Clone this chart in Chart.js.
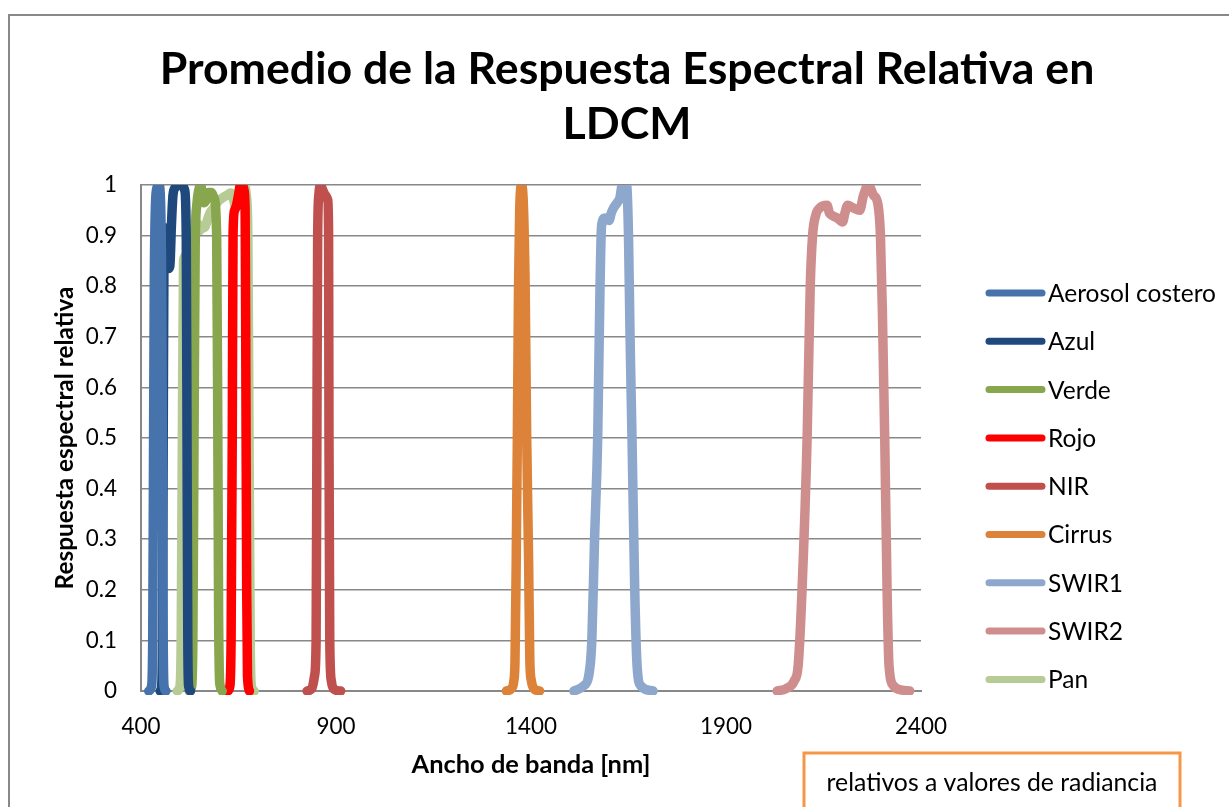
<!DOCTYPE html>
<html><head><meta charset="utf-8">
<script src="https://cdn.jsdelivr.net/npm/chart.js@4.4.1/dist/chart.umd.min.js"></script>
<style>html,body{margin:0;padding:0;background:#fff;overflow:hidden}
#wrap{position:relative;width:1229px;height:807px}canvas{display:block}</style></head>
<body><div id="wrap"><canvas id="c" width="1229" height="807"></canvas></div>
<script>
const titleLines = ['Promedio de la Respuesta Espectral Relativa en', 'LDCM'];
const xAxisTitle = 'Ancho de banda [nm]';
const yAxisTitle = 'Respuesta espectral relativa';
const noteText = 'relativos a valores de radiancia';
const seriesNames = ['Aerosol costero','Azul','Verde','Rojo','NIR','Cirrus','SWIR1','SWIR2','Pan'];
const seriesColors = ['#4773AC','#1F497D','#88A64D','#FF0000','#C0504D','#DC8239','#8EA7CD','#CF8E8E','#B7CC94'];
const xTickValues = [400, 900, 1400, 1900, 2400];
const yTickLabels = ['0','0.1','0.2','0.3','0.4','0.5','0.6','0.7','0.8','0.9','1'];

const aerosolNm  = [420,427,430,432,434,437,441,446,450,453,455,457,459,464];
const aerosolRsr = [0,0.01,0.1,0.45,0.8,0.96,0.995,1.0,0.97,0.8,0.45,0.1,0.01,0];
const azulNm  = [449,453,455,457,459,462,466,470,474,478,482,488,496,505,512,516,518,520,522,527];
const azulRsr = [0,0.01,0.1,0.5,0.88,0.915,0.88,0.835,0.84,0.92,0.98,0.995,1.0,1.0,0.99,0.9,0.5,0.1,0.01,0];
const verdeNm  = [524,530,533,536,539,543,548,553,558,562,567,573,580,587,594,597,599,601,603,608];
const verdeRsr = [0,0.01,0.1,0.5,0.88,0.96,0.99,1.0,0.975,0.965,0.97,0.985,0.985,0.975,0.9,0.5,0.15,0.03,0.01,0];
const rojoNm  = [622,628,631,634,636,640,645,650,655,660,664,667,669,671,673,678];
const rojoRsr = [0,0.01,0.1,0.5,0.9,0.95,0.96,0.98,1.0,1.0,0.99,0.95,0.6,0.2,0.03,0];
const nirNm  = [826,838,845,849,851,853,856,860,866,873,879,881,882,884,888,896,912];
const nirRsr = [0,0.005,0.03,0.1,0.5,0.9,0.98,1.0,0.99,0.98,0.97,0.9,0.5,0.1,0.02,0.003,0];
const cirrusNm  = [1337,1350,1356,1359,1362,1365,1368,1371,1376,1381,1385,1389,1394,1397,1401,1407,1422];
const cirrusRsr = [0,0.005,0.02,0.06,0.25,0.5,0.8,0.95,1.0,0.95,0.8,0.5,0.25,0.06,0.02,0.005,0];
const swir1Nm  = [1510,1535,1548,1556,1563,1571,1577,1581,1590,1600,1606,1612,1621,1628,1634,1645,1650,1654,1659,1666,1672,1682,1713];
const swir1Rsr = [0,0.01,0.03,0.1,0.3,0.5,0.8,0.92,0.935,0.93,0.945,0.955,0.965,0.975,1.0,1.0,0.9,0.7,0.5,0.2,0.05,0.01,0];
const swir2Nm  = [2031,2055,2075,2085,2095,2108,2116,2122,2130,2141,2159,2165,2172,2185,2199,2205,2212,2226,2243,2252,2265,2278,2290,2296,2301,2307,2313,2318,2330,2350,2371];
const swir2Rsr = [0,0.005,0.02,0.05,0.2,0.5,0.8,0.9,0.94,0.955,0.96,0.945,0.94,0.935,0.927,0.945,0.96,0.955,0.95,0.978,1.0,0.98,0.96,0.9,0.75,0.5,0.2,0.05,0.01,0.002,0];
const panNm  = [493,500,503,506,509,514,520,526,531,538,544,550,557,564,570,577,587,597,610,621,630,636,641,646,652,659,665,670,674,677,680,683,690];
const panRsr = [0,0.01,0.1,0.5,0.85,0.86,0.87,0.885,0.9,0.915,0.925,0.91,0.915,0.917,0.93,0.945,0.955,0.967,0.975,0.98,0.984,0.975,0.96,0.957,0.975,0.994,1.0,0.98,0.9,0.5,0.1,0.01,0];

const seriesNm  = [aerosolNm, azulNm, verdeNm, rojoNm, nirNm, cirrusNm, swir1Nm, swir2Nm, panNm];
const seriesRsr = [aerosolRsr, azulRsr, verdeRsr, rojoRsr, nirRsr, cirrusRsr, swir1Rsr, swir2Rsr, panRsr];

const FAMILY = 'Lato, "Open Sans", sans-serif';
const mctx = document.createElement('canvas').getContext('2d');
function fitSize(text, weight, target, base) {
  mctx.font = weight + ' ' + base + 'px ' + FAMILY;
  return base * target / mctx.measureText(text).width;
}
const tickSize = fitSize('2400', 'normal', 52, 24);
const xTitleSize = fitSize(xAxisTitle, 'bold', 239, 20);
const yTitleSize = fitSize(yAxisTitle, 'bold', 303, 20);

const datasets = seriesNames.map((name, i) => ({
  label: name,
  data: seriesNm[i].map((x, j) => ({x: x, y: seriesRsr[i][j]})),
  borderColor: seriesColors[i],
  backgroundColor: seriesColors[i],
  borderWidth: 9.5,
  pointRadius: 0,
  showLine: true,
  fill: false,
  cubicInterpolationMode: 'monotone',
  borderCapStyle: 'round',
  borderJoinStyle: 'round',
  clip: {left: false, right: false, top: 0, bottom: 4}
}));

const decor = {
  id: 'decor',
  beforeDraw(chart) {
    const ctx = chart.ctx;
    ctx.save();
    ctx.fillStyle = '#fff';
    ctx.fillRect(0, 0, chart.width, chart.height);
    ctx.strokeStyle = '#888';
    ctx.lineWidth = 2;
    ctx.strokeRect(9, 15, 1260, 850);
    ctx.restore();
  },
  afterDraw(chart) {
    const ctx = chart.ctx;
    ctx.save();
    const ts = fitSize(titleLines[0], 'bold', 935, 40);
    ctx.font = 'bold ' + ts + 'px ' + FAMILY;
    ctx.fillStyle = '#000';
    ctx.textAlign = 'center';
    ctx.textBaseline = 'middle';
    ctx.fillText(titleLines[0], 627, 70);
    ctx.fillText(titleLines[1], 627, 125);
    const ls = fitSize(seriesNames[0], 'normal', 168, 22);
    ctx.font = ls + 'px ' + FAMILY;
    ctx.textAlign = 'left';
    chart.data.datasets.forEach((ds, i) => {
      const y = 293 + i * 48.3;
      ctx.strokeStyle = ds.borderColor;
      ctx.lineWidth = 7;
      ctx.lineCap = 'round';
      ctx.beginPath(); ctx.moveTo(989, y); ctx.lineTo(1042, y); ctx.stroke();
      ctx.fillStyle = '#000';
      ctx.fillText(ds.label, 1048, y + 1);
    });
    ctx.strokeStyle = '#F79646';
    ctx.lineWidth = 3;
    ctx.strokeRect(804, 753, 376, 70);
    const ns = fitSize(noteText, 'normal', 331, 20);
    ctx.font = ns + 'px ' + FAMILY;
    ctx.fillStyle = '#000';
    ctx.textAlign = 'center';
    ctx.fillText(noteText, 992, 783);
    ctx.restore();
  }
};

new Chart(document.getElementById('c'), {
  type: 'scatter',
  data: { datasets },
  options: {
    responsive: false,
    animation: false,
    events: [],
    layout: { padding: { left: 50, right: 308, top: 185, bottom: 27 } },
    plugins: { legend: { display: false }, title: { display: false }, tooltip: { enabled: false } },
    scales: {
      x: {
        type: 'linear', min: 400, max: 2400,
        afterBuildTicks: s => { s.ticks = xTickValues.map(v => ({value: v})); },
        afterFit: s => { s.height = 89; },
        grid: { display: false, drawTicks: false },
        border: { display: true, color: '#888', width: 2 },
        ticks: { color: '#000', padding: 22, maxRotation: 0, font: { family: FAMILY, size: tickSize }, callback: v => String(v) },
        title: { display: true, text: xAxisTitle, color: '#000', padding: 0, font: { family: FAMILY, size: xTitleSize, weight: 'bold' } }
      },
      y: {
        type: 'linear', min: 0, max: 1,
        afterBuildTicks: s => { s.ticks = yTickLabels.map((t, i) => ({value: i / 10})); },
        afterFit: s => { s.width = 91; },
        grid: { color: '#888', lineWidth: 1.5, drawTicks: false },
        border: { display: true, color: '#888', width: 2 },
        ticks: { color: '#000', padding: 24, font: { family: FAMILY, size: tickSize }, callback: (v, i) => yTickLabels[i] },
        title: { display: true, text: yAxisTitle, color: '#000', padding: 0, font: { family: FAMILY, size: yTitleSize, weight: 'bold' } }
      }
    }
  },
  plugins: [decor]
});
</script></body></html>
